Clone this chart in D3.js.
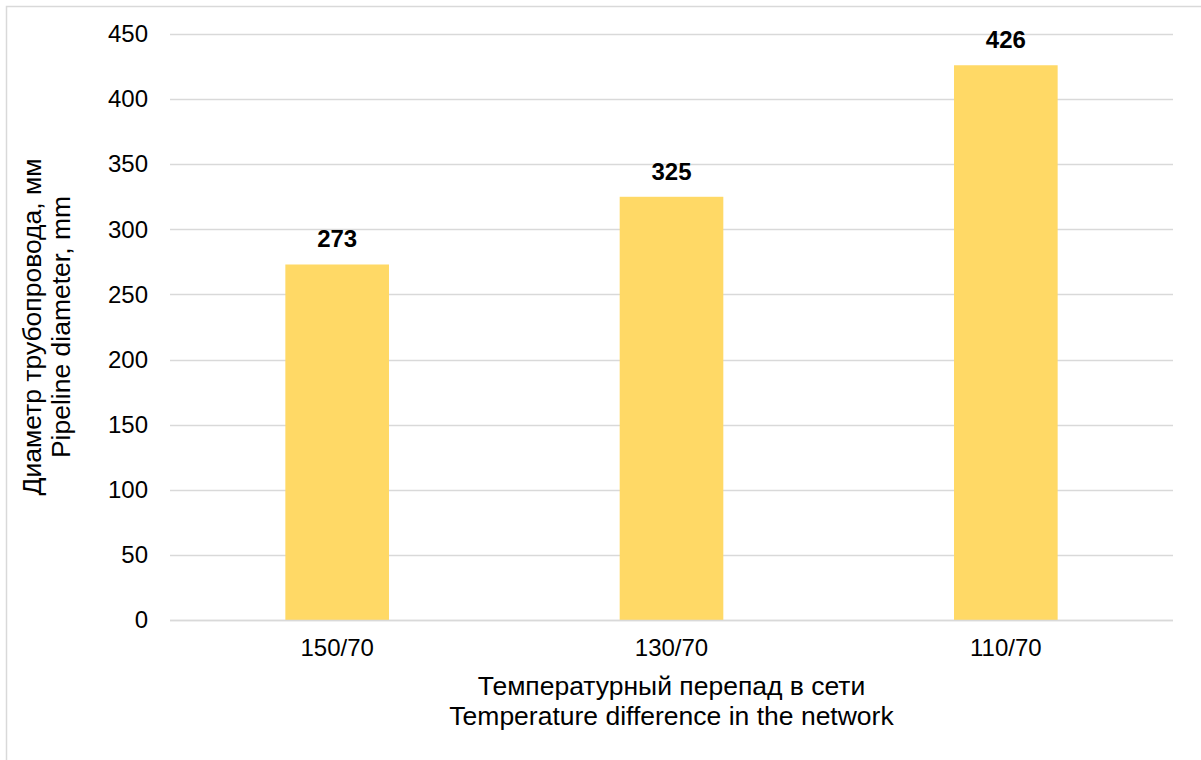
<!DOCTYPE html>
<html lang="en">
<head>
  <meta charset="UTF-8" />
  <title>Pipeline diameter</title>
  <script src="https://d3js.org/d3.v7.min.js"></script>
  <style>
    body { margin: 0; background: #fff; font-family: "Liberation Sans", Arial, sans-serif; }
    svg { display: block; }
    text { font-family: "Liberation Sans", Arial, sans-serif; fill: #000; }
  </style>
</head>
<body>
<svg width="1201" height="760"></svg>
<script>
  const categories = ["150/70", "130/70", "110/70"];
  const values = [273, 325, 426];
  const yTicks = [0, 50, 100, 150, 200, 250, 300, 350, 400, 450];

  const svg = d3.select("svg");
  const margin = { top: 34, right: 28, bottom: 140, left: 170 };
  const width = 1201, height = 760;
  const innerWidth = width - margin.left - margin.right;
  const innerHeight = height - margin.top - margin.bottom;

  // outer chart frame (runs off the right and bottom edges)
  svg.append("path")
    .attr("d", `M6.5,${height} V6.5 H${width}`)
    .attr("fill", "none").attr("stroke", "#d9d9d9").attr("stroke-width", 1.5);

  const g = svg.append("g")
    .attr("transform", `translate(${margin.left},${margin.top})`);

  const x = d3.scaleBand()
    .domain(categories)
    .range([0, innerWidth])
    .paddingInner(0.69)
    .paddingOuter(0.345);

  const y = d3.scaleLinear()
    .domain([0, 450])
    .range([innerHeight, 0]);

  // gridlines
  g.selectAll("line.grid")
    .data(yTicks)
    .enter().append("line")
    .attr("class", "grid")
    .attr("x1", 0).attr("x2", innerWidth)
    .attr("y1", d => Math.round(y(d)) + 0.5)
    .attr("y2", d => Math.round(y(d)) + 0.5)
    .attr("stroke", "#d9d9d9").attr("stroke-width", 1.5);

  // Y axis labels
  const yAxis = d3.axisLeft(y).tickValues(yTicks).tickSize(0).tickPadding(22);
  const ya = g.append("g").call(yAxis);
  ya.attr("font-family", null).attr("font-size", null);
  ya.select(".domain").remove();
  ya.selectAll("text").attr("font-size", 24);

  // bars
  g.selectAll("rect.bar")
    .data(values)
    .enter().append("rect")
    .attr("class", "bar")
    .attr("x", (d, i) => x(categories[i]))
    .attr("y", d => y(d))
    .attr("width", x.bandwidth())
    .attr("height", d => innerHeight - y(d))
    .attr("fill", "#ffd966");

  // X axis line on top of bars
  g.append("line")
    .attr("x1", 0).attr("x2", innerWidth)
    .attr("y1", innerHeight + 0.5).attr("y2", innerHeight + 0.5)
    .attr("stroke", "#d9d9d9").attr("stroke-width", 1.5);

  // X axis labels
  const xAxis = d3.axisBottom(x).tickSize(0).tickPadding(19);
  const xa = g.append("g").attr("transform", `translate(0,${innerHeight})`).call(xAxis);
  xa.attr("font-family", null).attr("font-size", null);
  xa.select(".domain").remove();
  xa.selectAll("text").attr("font-size", 24);

  // value labels
  g.selectAll("text.val")
    .data(values)
    .enter().append("text")
    .attr("class", "val")
    .attr("x", (d, i) => x(categories[i]) + x.bandwidth() / 2)
    .attr("y", d => y(d) - 17)
    .attr("text-anchor", "middle")
    .attr("font-size", 24).attr("font-weight", "bold")
    .text(d => d);

  // X title
  const xTitle = svg.append("text")
    .attr("text-anchor", "middle")
    .attr("font-size", 26.5);
  xTitle.append("tspan").attr("x", margin.left + innerWidth / 2).attr("y", 695)
    .text("Температурный перепад в сети");
  xTitle.append("tspan").attr("x", margin.left + innerWidth / 2).attr("y", 725)
    .text("Temperature difference in the network");

  // Y title
  const cy = margin.top + innerHeight / 2;
  const yTitle = svg.append("text")
    .attr("transform", `translate(0,${cy}) rotate(-90)`)
    .attr("text-anchor", "middle")
    .attr("font-size", 26.5);
  yTitle.append("tspan").attr("x", 0).attr("y", 41).text("Диаметр трубопровода, мм");
  yTitle.append("tspan").attr("x", 0).attr("y", 70).text("Pipeline diameter, mm");
</script>
</body>
</html>
